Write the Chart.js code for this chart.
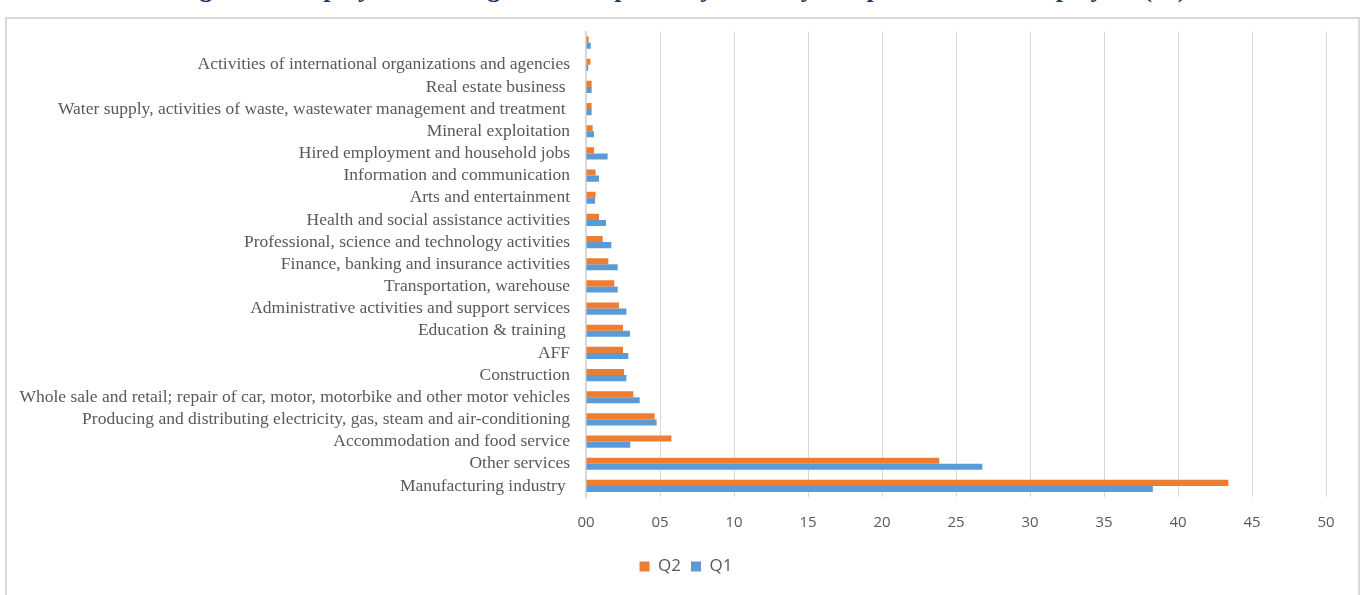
<!DOCTYPE html>
<html>
<head>
<meta charset="utf-8">
<script src="https://cdn.jsdelivr.net/npm/chart.js@4.4.1/dist/chart.umd.min.js"></script>
<style>
  html, body { margin: 0; padding: 0; background: #fff; overflow: hidden; }
  body { width: 1363px; height: 595px; position: relative; overflow: hidden; }
  #title {
    position: absolute; left: 0; top: -26px; width: 1363px; text-align: center;
    font: bold 26px "Liberation Serif", "Times New Roman", serif; color: #1f3864;
    white-space: nowrap;
  }
  #frame {
    position: absolute; left: 5px; top: 17px; width: 1351px; height: 600px;
    border: 2px solid #d9d9d9; background: #fff;
  }
  #wrap { position: absolute; left: 7px; top: 13px; width: 1349px; height: 582px; }
</style>
</head>
<body>
<div id="title">Figure 4: Employment changes of enterprises by industry compared to total employees (%)</div>
<div id="frame"></div>
<div id="wrap"><canvas id="chart"></canvas></div>
<script>
const categories = [
  '',
  'Activities of international organizations and agencies',
  'Real estate business ',
  'Water supply, activities of waste, wastewater management and treatment ',
  'Mineral exploitation',
  'Hired employment and household jobs',
  'Information and communication',
  'Arts and entertainment',
  'Health and social assistance activities',
  'Professional, science and technology activities',
  'Finance, banking and insurance activities',
  'Transportation, warehouse',
  'Administrative activities and support services',
  'Education & training ',
  'AFF',
  'Construction',
  'Whole sale and retail; repair of car, motor, motorbike and other motor vehicles',
  'Producing and distributing electricity, gas, steam and air-conditioning',
  'Accommodation and food service',
  'Other services',
  'Manufacturing industry '
];
const q2 = [0.18, 0.3, 0.38, 0.38, 0.45, 0.54, 0.65, 0.65, 0.88, 1.13, 1.51, 1.91, 2.23, 2.5, 2.5, 2.57, 3.2, 4.64, 5.77, 23.87, 43.4];
const q1 = [0.32, 0.15, 0.38, 0.38, 0.54, 1.46, 0.88, 0.61, 1.35, 1.71, 2.14, 2.14, 2.73, 2.97, 2.86, 2.73, 3.63, 4.77, 2.99, 26.78, 38.3];
const xTicks = [0, 5, 10, 15, 20, 25, 30, 35, 40, 45, 50];

// legend sits a little right of the plot centre, like in the original
const legendShift = {
  id: 'legendShift',
  afterLayout(chart) {
    if (chart.legend) chart.legend.right += 39;
  }
};

const ctx = document.getElementById('chart').getContext('2d');
new Chart(ctx, {
  type: 'bar',
  data: {
    labels: categories,
    datasets: [
      { label: 'Q2', data: q2, backgroundColor: '#ed7d31' },
      { label: 'Q1', data: q1, backgroundColor: '#5b9bd5' }
    ]
  },
  options: {
    indexAxis: 'y',
    responsive: true,
    maintainAspectRatio: false,
    animation: false,
    datasets: { bar: { categoryPercentage: 0.55, barPercentage: 1 } },
    layout: { padding: { top: 5, right: 30, bottom: 10, left: 0 } },
    plugins: {
      tooltip: { enabled: false },
      legend: {
        position: 'bottom',
        labels: {
          boxWidth: 10, boxHeight: 10, padding: 10,
          color: '#595959',
          font: { family: '"Open Sans", "Liberation Sans", sans-serif', size: 17 }
        }
      }
    },
    scales: {
      x: {
        min: 0, max: 50,
        afterBuildTicks: axis => { axis.ticks = xTicks.map(v => ({ value: v })); },
        ticks: {
          color: '#595959', padding: 17,
          font: { family: '"Open Sans", "Liberation Sans", sans-serif', size: 15 },
          callback: v => String(v).padStart(2, '0')
        },
        grid: { color: '#d9d9d9', lineWidth: 1, tickLength: 0, drawTicks: false },
        border: { display: false },
        afterFit: axis => { axis.height = 51; }
      },
      y: {
        ticks: {
          color: '#595959', padding: 8, autoSkip: false,
          font: { family: '"Liberation Serif", "Times New Roman", serif', size: 17.5 }
        },
        grid: { display: false },
        border: { display: true, color: '#d9d9d9', width: 2 },
        afterFit: axis => { axis.width = 579; }
      }
    }
  },
  plugins: [legendShift]
});
</script>
</body>
</html>
